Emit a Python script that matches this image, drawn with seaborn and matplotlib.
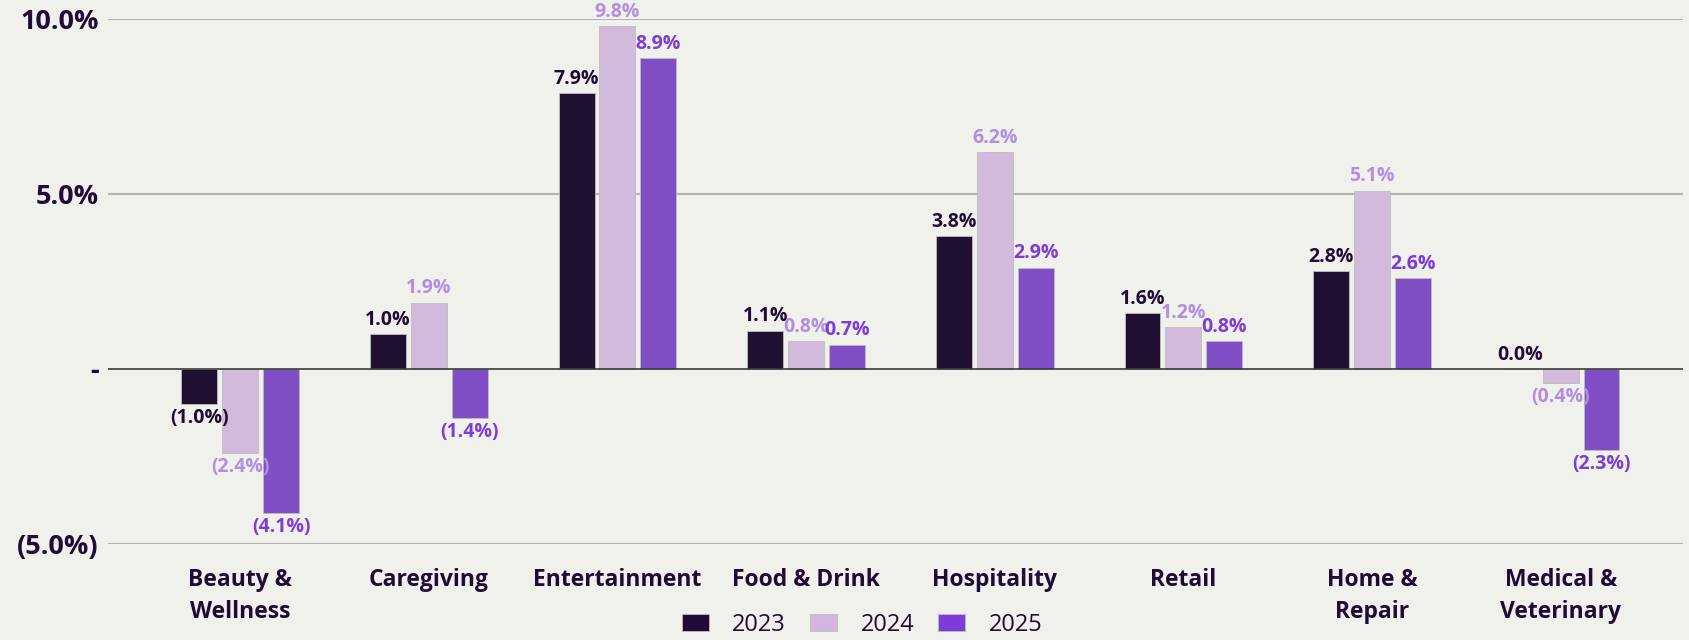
import pandas as pd
import matplotlib.pyplot as plt
import seaborn as sns
from matplotlib.patches import Patch

# data (% growth)
categories = ["Beauty &\nWellness", "Caregiving", "Entertainment", "Food & Drink",
              "Hospitality", "Retail", "Home &\nRepair", "Medical &\nVeterinary"]
years = ["2023", "2024", "2025"]
vals_2023 = [-1.0, 1.0, 7.9, 1.1, 3.8, 1.6, 2.8, 0.0]
vals_2024 = [-2.4, 1.9, 9.8, 0.8, 6.2, 1.2, 5.1, -0.4]
vals_2025 = [-4.1, -1.4, 8.9, 0.7, 2.9, 0.8, 2.6, -2.3]
y_ticks = [-5, 0, 5, 10]
y_tick_labels = ["(5.0%)", "-", "5.0%", "10.0%"]

bar_colors = ["#1F0A38", "#D3B5E0", "#7D3CD8"]
label_colors = ["#1F0A38", "#B28EE0", "#7D3CD8"]
bg = "#F1F1EC"
ink = "#1F0A38"

df = pd.DataFrame({
    "category": categories * 3,
    "year": [y for y in years for _ in categories],
    "value": vals_2023 + vals_2024 + vals_2025,
})

sns.set_style("white", {"axes.facecolor": bg, "figure.facecolor": bg})
plt.rcParams["font.family"] = ["Open Sans", "DejaVu Sans"]

fig = plt.figure(figsize=(16.9, 6.4), dpi=100)
ax = fig.add_axes([0.064, 0.15, 0.932, 0.82])

sns.barplot(data=df, x="category", y="value", hue="year", palette=bar_colors,
            width=0.65, gap=0.12, ax=ax, legend=False,
            edgecolor="#BDBDBD", linewidth=0.6)

def fmt(v):
    return f"({abs(v):.1f}%)" if v < 0 else f"{v:.1f}%"

for cont, series, col in zip(ax.containers, [vals_2023, vals_2024, vals_2025], label_colors):
    ax.bar_label(cont, labels=[fmt(v) for v in series], padding=3,
                 color=col, fontsize=14, fontweight="bold")

ax.set_ylim(-5, 10)
ax.set_xlim(-0.70, 7.65)
ax.set_yticks(y_ticks)
ax.set_yticklabels(y_tick_labels)
ax.tick_params(axis="y", length=0, pad=7, labelsize=19.5, labelcolor=ink)
ax.tick_params(axis="x", length=0, pad=17, labelsize=16.5, labelcolor=ink)
for lab in ax.get_yticklabels():
    lab.set_fontweight("bold")
for lab in ax.get_xticklabels():
    lab.set_fontweight("bold")
    lab.set_linespacing(1.45)
ax.set_xlabel("")
ax.set_ylabel("")

for y in [-5, 5, 10]:
    ax.axhline(y, color="#B3B3B3", linewidth=1.5, zorder=0)
ax.axhline(0, color="#3A3A3A", linewidth=1.2, zorder=3)
sns.despine(ax=ax, left=True, bottom=True)

handles = [Patch(facecolor=c, edgecolor="#BDBDBD", linewidth=0.6) for c in bar_colors]
fig.legend(handles, years, loc="lower center", bbox_to_anchor=(0.51, -0.028),
           ncol=3, frameon=False, fontsize=17, labelcolor=ink,
           handlelength=1.15, handleheight=0.7, handletextpad=1.0, columnspacing=1.0)

fig.savefig("out.png", dpi=100, facecolor=bg)
